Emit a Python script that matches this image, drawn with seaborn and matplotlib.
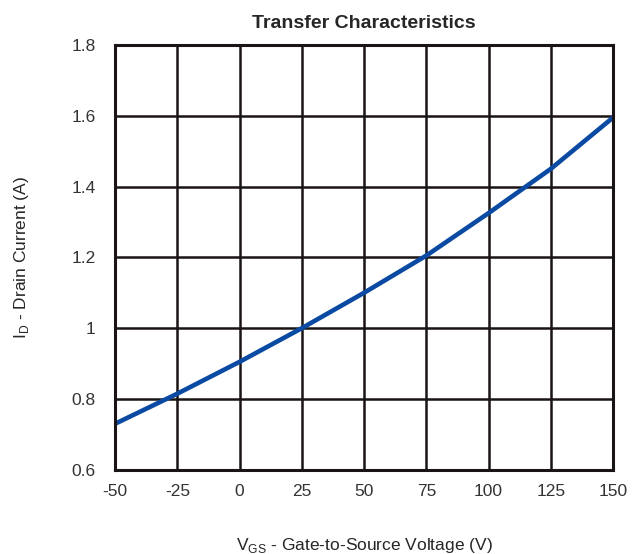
import pandas as pd
import matplotlib
matplotlib.use("Agg")
import matplotlib.pyplot as plt
import seaborn as sns

# Values
vgs = [-50, -25, 0, 25, 50, 75, 100, 125, 150]
drain_current = [0.73, 0.815, 0.905, 1.0, 1.10, 1.205, 1.325, 1.45, 1.595]

x_ticks = [-50, -25, 0, 25, 50, 75, 100, 125, 150]
y_ticks = [0.6, 0.8, 1.0, 1.2, 1.4, 1.6, 1.8]
y_tick_labels = ["0.6", "0.8", "1", "1.2", "1.4", "1.6", "1.8"]

df = pd.DataFrame({"VGS": vgs, "ID": drain_current})

sns.set_style("white")
plt.rcParams["font.family"] = ["Liberation Sans", "DejaVu Sans"]
plt.rcParams["mathtext.fontset"] = "custom"
plt.rcParams["mathtext.rm"] = "Liberation Sans"
plt.rcParams["axes.unicode_minus"] = False

fig = plt.figure(figsize=(6.36, 5.54), dpi=100)
ax = fig.add_axes([0.181, 0.152, 0.783, 0.767])

sns.lineplot(data=df, x="VGS", y="ID", ax=ax, color="#0b4aa2", linewidth=3.3)

ax.set_xlim(-50, 150)
ax.set_ylim(0.6, 1.8)
ax.set_xticks(x_ticks)
ax.set_yticks(y_ticks)
ax.set_yticklabels(y_tick_labels)
ax.grid(True, color="#1a1414", linewidth=1.8)
ax.set_axisbelow(True)
for s in ax.spines.values():
    s.set_color("#1a1414")
    s.set_linewidth(2.2)
ax.tick_params(axis="both", length=0, labelsize=12.5, colors="#333333")
ax.tick_params(axis="y", pad=14)
ax.tick_params(axis="x", pad=10)

ax.set_title("Transfer Characteristics", fontsize=14, fontweight="bold", pad=12)
ax.set_xlabel(r"V$_\mathrm{GS}$ - Gate-to-Source Voltage (V)", fontsize=12.5, labelpad=27)
ax.set_ylabel(r"I$_\mathrm{D}$ - Drain Current (A)", fontsize=12.5, labelpad=29)

fig.savefig("out.png", dpi=100)
